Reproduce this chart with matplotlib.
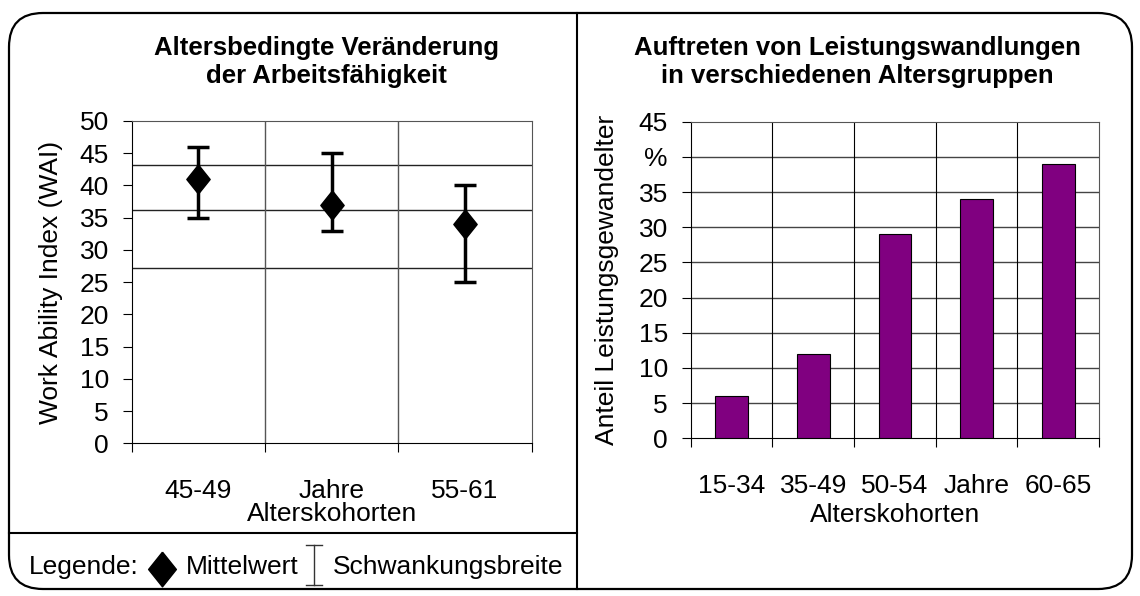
import numpy as np
import matplotlib
matplotlib.use("Agg")
import matplotlib.pyplot as plt
from matplotlib.patches import FancyBboxPatch
from matplotlib.lines import Line2D

plt.rcParams['font.family'] = ['Liberation Sans', 'DejaVu Sans']

# left chart data
wai_labels = ['45-49', 'Jahre', '55-61']
wai_mean = [41, 37, 34]
wai_low = [35, 33, 25]
wai_high = [46, 45, 40]
wai_hlines = [43.2, 36.2, 27.2]

# right chart data
grp_labels = ['15-34', '35-49', '50-54', 'Jahre', '60-65']
grp_share = [6, 12, 29, 34, 39]
grp_yticks = [0, 5, 10, 15, 20, 25, 30, 35, 40, 45]
grp_yticklabels = ['0', '5', '10', '15', '20', '25', '30', '35', '%', '45']

W, H = 1140, 596
FS = 19
fig = plt.figure(figsize=(W / 100, H / 100), dpi=100)

def px_axes(x0, y0, x1, y1):
    return fig.add_axes([x0 / W, 1 - y1 / H, (x1 - x0) / W, (y1 - y0) / H])

# tall diamond like the original marker
diamond = [(0, 1.25), (1, 0), (0, -1.25), (-1, 0), (0, 1.25)]

# background frame in pixel coordinates
bg = fig.add_axes([0, 0, 1, 1])
bg.set_xlim(0, W)
bg.set_ylim(H, 0)
bg.axis('off')
bg.add_patch(FancyBboxPatch((9, 13), 1123, 576, boxstyle="round,pad=0,rounding_size=34",
                            fill=False, lw=1.6, ec='black'))
bg.add_line(Line2D([577, 577], [13, 589], lw=1.5, color='black'))
bg.add_line(Line2D([9, 577], [533, 533], lw=1.5, color='black'))

# titles
bg.text(326, 62, 'Altersbedingte Veränderung\nder Arbeitsfähigkeit', ha='center', va='center',
        fontsize=FS - 0.5, fontweight='bold', linespacing=1.2)
bg.text(857, 62, 'Auftreten von Leistungswandlungen\nin verschiedenen Altersgruppen', ha='center',
        va='center', fontsize=FS - 0.5, fontweight='bold', linespacing=1.2)

# legend row
bg.text(29, 567, 'Legende:', ha='left', va='center', fontsize=FS)
bg.plot([162], [569], marker=diamond, ms=25, color='black')
bg.text(186, 567, 'Mittelwert', ha='left', va='center', fontsize=FS)
bg.add_line(Line2D([314, 314], [545, 585], lw=1.0, color='#333333'))
bg.add_line(Line2D([306, 322], [545, 545], lw=1.0, color='#333333'))
bg.add_line(Line2D([306, 322], [585, 585], lw=1.0, color='#333333'))
bg.text(333, 567, 'Schwankungsbreite', ha='left', va='center', fontsize=FS)

# left chart
ax1 = px_axes(131.7, 121, 531.7, 443.3)
xs = np.arange(len(wai_labels)) + 0.5
ax1.set_xlim(0, 3)
ax1.set_ylim(0, 50)
for y in wai_hlines:
    ax1.axhline(y, color='#222222', lw=1.0, zorder=1)
for x in [1, 2]:
    ax1.axvline(x, color='#555555', lw=1.0, zorder=1)
yerr = [np.array(wai_mean) - np.array(wai_low), np.array(wai_high) - np.array(wai_mean)]
ax1.errorbar(xs, wai_mean, yerr=yerr, fmt='none', ecolor='black', elinewidth=2.5,
             capsize=8, capthick=2.5, zorder=3)
ax1.plot(xs, wai_mean, marker=diamond, ms=21, color='black', zorder=4, ls='none')
ax1.set_yticks(range(0, 51, 5))
ax1.set_xticks([0, 1, 2, 3])
ax1.set_xticklabels([])
ax1.set_xticks(xs, minor=True)
ax1.set_xticklabels(wai_labels, minor=True)
ax1.tick_params(axis='x', which='minor', length=0, pad=26, labelsize=FS)
ax1.tick_params(axis='x', which='major', length=6.5, direction='out', color='black')
ax1.tick_params(axis='y', length=6.5, labelsize=FS, pad=10)
for s in ['left', 'bottom']:
    ax1.spines[s].set_color('black')
for s in ['top', 'right']:
    ax1.spines[s].set_color('#555555')
ax1.set_ylabel('Work Ability Index (WAI)', fontsize=FS, labelpad=12)
bg.text(332, 514, 'Alterskohorten', ha='center', va='center', fontsize=FS)

# right chart
ax2 = px_axes(690.7, 121.7, 1099, 438.3)
xb = np.arange(len(grp_labels)) + 0.5
ax2.set_xlim(0, 5)
ax2.set_ylim(0, 45)
for y in grp_yticks[1:-1]:
    ax2.axhline(y, color='#444444', lw=1.0, zorder=1)
for x in [1, 2, 3, 4]:
    ax2.axvline(x, color='black', lw=0.8, zorder=1)
ax2.bar(xb, grp_share, width=0.4, color='#800080', edgecolor='black', lw=0.8, zorder=3)
ax2.set_yticks(grp_yticks)
ax2.set_yticklabels(grp_yticklabels)
ax2.set_xticks([0, 1, 2, 3, 4, 5])
ax2.set_xticklabels([])
ax2.set_xticks(xb, minor=True)
ax2.set_xticklabels(grp_labels, minor=True)
ax2.tick_params(axis='x', which='minor', length=0, pad=26, labelsize=FS)
ax2.tick_params(axis='x', which='major', length=6.5, direction='out')
ax2.tick_params(axis='y', length=6.5, labelsize=FS, pad=10)
for s in ['top', 'right']:
    ax2.spines[s].set_color('#555555')
ax2.set_ylabel('Anteil Leistungsgewandelter', fontsize=FS, labelpad=14)
bg.text(895, 515, 'Alterskohorten', ha='center', va='center', fontsize=FS)

fig.savefig('out.png', dpi=100)
